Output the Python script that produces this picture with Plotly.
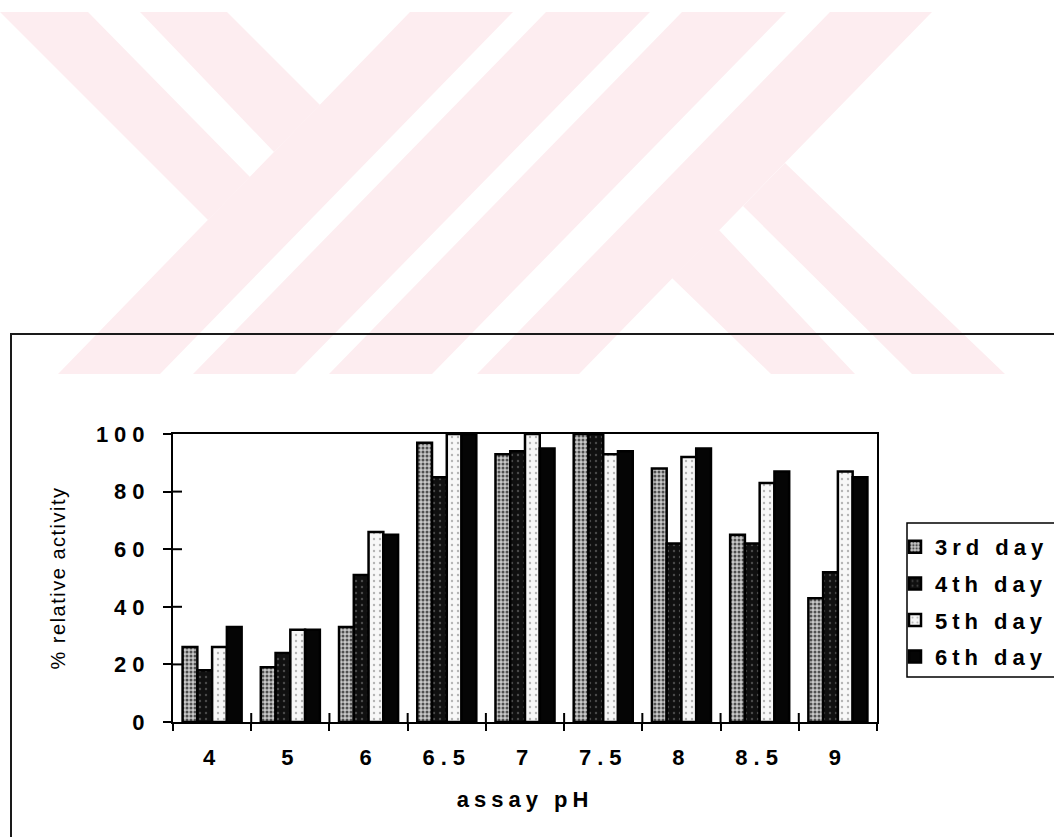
import plotly.graph_objects as go

# pH values on the x axis and % relative activity for each culture day
ph_labels = ["4", "5", "6", "6.5", "7", "7.5", "8", "8.5", "9"]
day3 = [26, 19, 33, 97, 93, 100, 88, 65, 43]
day4 = [18, 24, 51, 85, 94, 100, 62, 62, 52]
day5 = [26, 32, 66, 100, 100, 93, 92, 83, 87]
day6 = [33, 32, 65, 100, 95, 94, 95, 87, 85]
series_names = ["3rd day", "4th day", "5th day", "6th day"]
y_ticks = [0, 20, 40, 60, 80, 100]

# page and plot-area geometry (pixels)
W, H = 1054, 837
PL, PR, PT, PB = 173, 877, 434, 722
FONT = "Liberation Sans, Arial, Helvetica, sans-serif"


def px_x(x):
    return (x - PL) / (PR - PL)


def px_y(y):
    return (PB - y) / (PB - PT)


def spaced(s, px):
    return f'<span style="letter-spacing:{px}px">{s}</span>'


series_values = [day3, day4, day5, day6]
series_marker = [
    dict(color="#a9a9a9",
         pattern=dict(shape=".", fillmode="replace", bgcolor="#c8c8c8",
                      fgcolor="#505050", size=4, solidity=0.45)),
    dict(color="#151515",
         pattern=dict(shape=".", fillmode="replace", bgcolor="#101010",
                      fgcolor="#4a4a4a", size=6, solidity=0.12)),
    dict(color="#f4f4f4",
         pattern=dict(shape=".", fillmode="replace", bgcolor="#f7f7f7",
                      fgcolor="#b4b4b4", size=6, solidity=0.12)),
    dict(color="#050505"),
]

fig = go.Figure()
for name, vals, mk in zip(series_names, series_values, series_marker):
    fig.add_trace(go.Bar(
        x=ph_labels, y=vals, name=spaced(name, 5), legendgroup=name,
        marker=dict(line=dict(color="black", width=2.5), **mk),
        hovertemplate=name + ": %{y}<extra></extra>",
    ))

shapes = []

# light pink background emblem in the page header
emblem = [
    [(0, 12), (88, 12), (250, 177), (208, 220)],
    [(140, 12), (227, 12), (320, 105), (274, 152)],
    [(58, 374), (160, 374), (513, 12), (410, 12)],
    [(193, 374), (295, 374), (650, 12), (546, 12)],
    [(329, 374), (432, 374), (786, 12), (682, 12)],
    [(477, 374), (579, 374), (932, 12), (830, 12)],
    [(785, 163), (1005, 374), (912, 374), (743, 206)],
    [(719, 230), (855, 374), (771, 374), (672, 278)],
]
for poly in emblem:
    path = "M " + " L ".join(f"{px_x(x):.5f},{px_y(y):.5f}" for x, y in poly) + " Z"
    shapes.append(dict(type="path", path=path, xref="paper", yref="paper",
                       fillcolor="#fdedf0", line=dict(width=0), layer="below"))

# outer chart frame (runs off the right and bottom of the page)
shapes.append(dict(type="rect", xref="paper", yref="paper",
                   x0=px_x(11), x1=px_x(1080), y0=px_y(870), y1=px_y(334),
                   line=dict(color="#1a1a1a", width=2), fillcolor="rgba(0,0,0,0)"))

# legend box
shapes.append(dict(type="rect", xref="paper", yref="paper",
                   x0=px_x(907), x1=px_x(1080), y0=px_y(677), y1=px_y(523),
                   line=dict(color="black", width=1.5), fillcolor="rgba(0,0,0,0)"))

# inner halves of the crossing tick marks
for v in y_ticks[1:-1]:
    shapes.append(dict(type="line", xref="paper", yref="y", x0=0, x1=9 / (PR - PL),
                       y0=v, y1=v, line=dict(color="black", width=2)))
for i in range(len(ph_labels) - 1):
    shapes.append(dict(type="line", xref="x", yref="paper", x0=i + 0.5, x1=i + 0.5,
                       y0=0, y1=9 / (PB - PT), line=dict(color="black", width=2)))

tick_font = dict(family=FONT, size=22, color="black", weight="bold")

fig.update_layout(
    width=W, height=H, autosize=False,
    margin=dict(l=PL, r=W - PR, t=PT, b=H - PB, pad=0, autoexpand=False),
    paper_bgcolor="white", plot_bgcolor="white",
    barmode="group", bargap=0.245, bargroupgap=0,
    font=dict(family=FONT, color="black"),
    shapes=shapes,
    showlegend=True,
    legend=dict(x=px_x(895), y=px_y(526), xanchor="left", yanchor="top",
                bgcolor="rgba(0,0,0,0)", borderwidth=0, tracegroupgap=5,
                font=dict(family=FONT, size=22, color="black", weight="bold")),
    xaxis=dict(
        type="category", range=[-0.5, len(ph_labels) - 0.5],
        tickmode="array", tickvals=ph_labels,
        ticktext=[spaced(t, 6) for t in ph_labels],
        tickson="boundaries", ticks="outside", ticklen=7, tickwidth=2,
        tickcolor="black", showline=True, linewidth=2, linecolor="black",
        mirror=True, showgrid=False, zeroline=False,
        tickfont=tick_font, ticklabelstandoff=15,
        title=dict(text=spaced("assay pH", 5), standoff=22,
                   font=dict(family=FONT, size=22, color="black", weight="bold")),
    ),
    yaxis=dict(
        range=[0, 100], tickmode="array", tickvals=y_ticks,
        ticktext=[spaced(str(v), 6) for v in y_ticks],
        ticks="outside", ticklen=8, tickwidth=2, tickcolor="black",
        showline=True, linewidth=2, linecolor="black", mirror=True,
        showgrid=False, zeroline=False,
        tickfont=tick_font, ticklabelstandoff=8,
        title=dict(text=spaced("% relative activity", 1.5), standoff=25,
                   font=dict(family=FONT, size=20, color="black")),
    ),
)

fig.write_html("out.html")
